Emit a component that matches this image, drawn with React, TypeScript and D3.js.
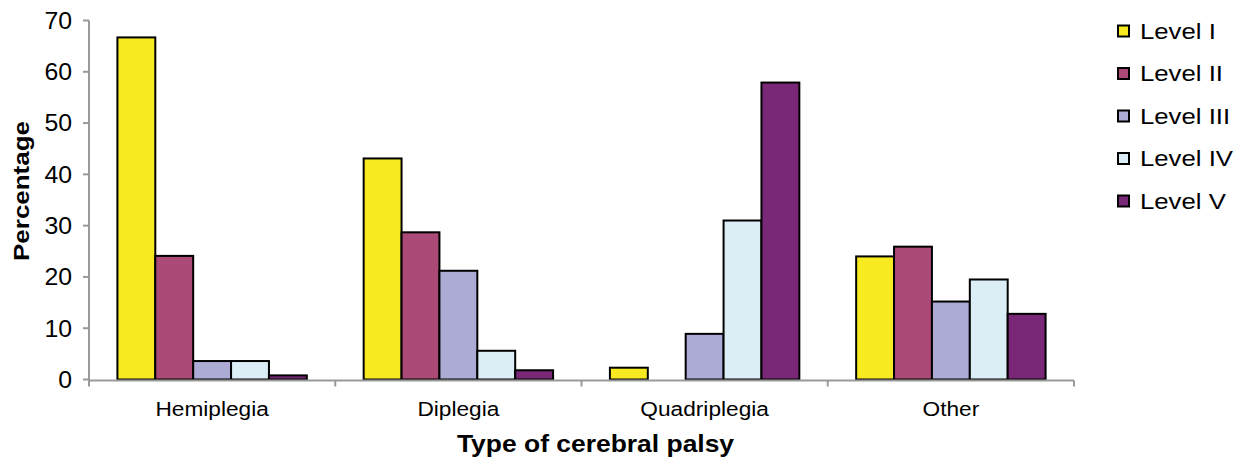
import React from "react";
import * as d3 from "d3";

const categories = ["Hemiplegia", "Diplegia", "Quadriplegia", "Other"];
const levels = ["Level I", "Level II", "Level III", "Level IV", "Level V"];
const levelI = [66.7, 43.1, 2.3, 24.0];
const levelII = [24.1, 28.7, 0, 25.9];
const levelIII = [3.6, 21.2, 8.9, 15.2];
const levelIV = [3.6, 5.6, 31.0, 19.5];
const levelV = [0.8, 1.8, 57.9, 12.8];
const seriesValues = [levelI, levelII, levelIII, levelIV, levelV];
const colors = ["#F7EA21", "#AB4A77", "#ACABD6", "#DBEEF5", "#782877"];
const yTicks = [0, 10, 20, 30, 40, 50, 60, 70];

const W = 1244;
const H = 459;
const left = 89;
const right = 1074;
const top = 20.5;
const bottom = 379.5;
const font = "'Liberation Sans', Arial, Helvetica, sans-serif";

function T(props: {
  x: number; y: number; size: number; sx?: number; anchor?: string; bold?: boolean; rotate?: number; dy?: string; children: any;
}) {
  const { x, y, size, sx = 1, anchor = "start", bold = false, rotate = 0, dy, children } = props;
  return (
    <text
      transform={`translate(${x},${y}) rotate(${rotate}) scale(${sx},1)`}
      textAnchor={anchor}
      fontSize={size}
      fontWeight={bold ? "bold" : "normal"}
      dy={dy}
      fill="#000"
    >
      {children}
    </text>
  );
}

export default function App() {
  const x0 = d3.scaleBand<string>().domain(categories).range([left, right]).paddingInner(0).paddingOuter(0);
  const x1 = d3.scaleBand<string>().domain(levels).range([0, x0.bandwidth()]).paddingInner(0).paddingOuter(0.75);
  const y = d3.scaleLinear().domain([0, 70]).range([bottom, top]);
  const axisColor = "#999999";
  const boundaries = categories.map((c) => x0(c) as number).concat([right]);

  return (
    <svg width={W} height={H} style={{ position: "absolute", left: 0, top: 0, background: "#fff" }} fontFamily={font}>
      {categories.map((c, ci) => (
        <g key={c}>
          {levels.map((l, li) => {
            const v = seriesValues[li][ci];
            if (v <= 0) return null;
            const bx = (x0(c) as number) + (x1(l) as number);
            return (
              <rect key={l} x={bx} y={y(v)} width={x1.bandwidth()} height={y(0) - y(v)}
                fill={colors[li]} stroke="#000" strokeWidth={2} />
            );
          })}
        </g>
      ))}
      <line x1={left} x2={left} y1={top} y2={bottom + 1} stroke={axisColor} strokeWidth={2} />
      {yTicks.map((t) => (
        <g key={t}>
          <line x1={left - 6} x2={left} y1={y(t)} y2={y(t)} stroke={axisColor} strokeWidth={2} />
          <T x={72} y={y(t)} dy="0.36em" anchor="end" size={23} sx={1.08}>{t}</T>
        </g>
      ))}
      <line x1={left} x2={right} y1={bottom + 1} y2={bottom + 1} stroke={axisColor} strokeWidth={2} />
      {boundaries.map((b, i) => (
        <line key={i} x1={b} x2={b} y1={bottom + 1} y2={bottom + 7} stroke={axisColor} strokeWidth={2} />
      ))}
      {categories.map((c) => (
        <T key={c} x={(x0(c) as number) + x0.bandwidth() / 2} y={416} anchor="middle" size={21} sx={1.08}>{c}</T>
      ))}
      <T x={(left + right) / 2 + 14} y={452} anchor="middle" size={23} sx={1.15} bold>Type of cerebral palsy</T>
      <T x={29} y={(top + bottom) / 2 - 9} anchor="middle" size={22} sx={1.18} bold rotate={-90}>Percentage</T>
      {levels.map((l, i) => {
        const cy = 31 + i * 42.5;
        return (
          <g key={l}>
            <rect x={1118} y={cy - 5.5} width={11} height={11} fill={colors[i]} stroke="#000" strokeWidth={2} />
            <T x={1140} y={cy} dy="0.36em" size={22} sx={1.17}>{l}</T>
          </g>
        );
      })}
    </svg>
  );
}
